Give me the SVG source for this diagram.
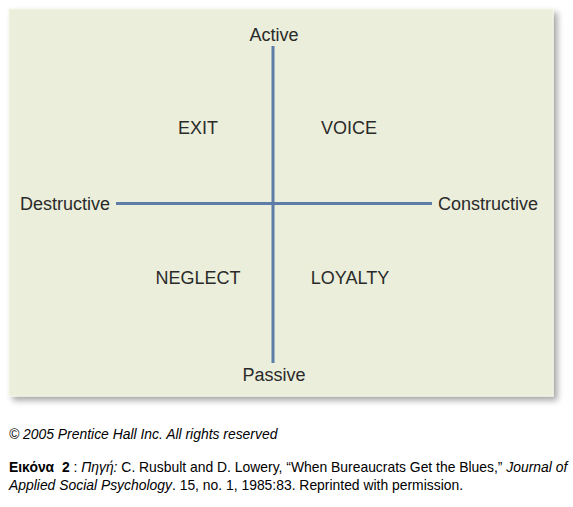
<svg xmlns="http://www.w3.org/2000/svg" width="573" height="507" viewBox="0 0 573 507">
<defs>
<filter id="sh" x="-5%" y="-5%" width="115%" height="115%">
<feGaussianBlur in="SourceAlpha" stdDeviation="3"/>
<feOffset dx="4" dy="4" result="b"/>
<feComponentTransfer><feFuncA type="linear" slope="0.35"/></feComponentTransfer>
<feMerge><feMergeNode/><feMergeNode in="SourceGraphic"/></feMerge>
</filter>
</defs>
<style>
.lbl{font-family:"Liberation Sans",Arial,sans-serif;font-size:18px;fill:#2a2a2a;text-anchor:middle}
.cap{font-family:"Liberation Sans",Arial,sans-serif;font-size:13.9px;fill:#000;white-space:pre}
.ax{stroke:#5d7ca8;stroke-width:3;fill:none}
</style>
<rect width="573" height="507" fill="#fff"/>
<rect id="panel" x="9" y="9" width="544" height="387" fill="#ebeeda" stroke="#f3f5e8" stroke-width="1" filter="url(#sh)"/>
<g id="connectors">
<line class="ax" x1="273" y1="46" x2="273" y2="363"/>
<line class="ax" x1="116" y1="203.5" x2="432" y2="203.5"/>
</g>
<g id="active"><text class="lbl" x="274" y="41">Active</text></g>
<g id="passive"><text class="lbl" x="274" y="381">Passive</text></g>
<g id="destructive"><text class="lbl" x="65" y="210">Destructive</text></g>
<g id="constructive"><text class="lbl" x="488" y="210">Constructive</text></g>
<g id="exit"><text class="lbl" x="198" y="134">EXIT</text></g>
<g id="voice"><text class="lbl" x="349" y="134">VOICE</text></g>
<g id="neglect"><text class="lbl" x="198" y="284">NEGLECT</text></g>
<g id="loyalty"><text class="lbl" x="350" y="284">LOYALTY</text></g>
<g id="caption">
<text class="cap" x="9" y="439" font-style="italic">© 2005 Prentice Hall Inc. All rights reserved</text>
<text class="cap" x="9" y="472"><tspan font-weight="bold">Εικόνα  2</tspan> : <tspan font-style="italic">Πηγή:</tspan> C. Rusbult and D. Lowery, “When Bureaucrats Get the Blues,” <tspan font-style="italic">Journal of</tspan></text>
<text class="cap" x="9" y="490"><tspan font-style="italic">Applied Social Psychology</tspan>. 15, no. 1, 1985:83. Reprinted with permission.</text>
</g>
</svg>
